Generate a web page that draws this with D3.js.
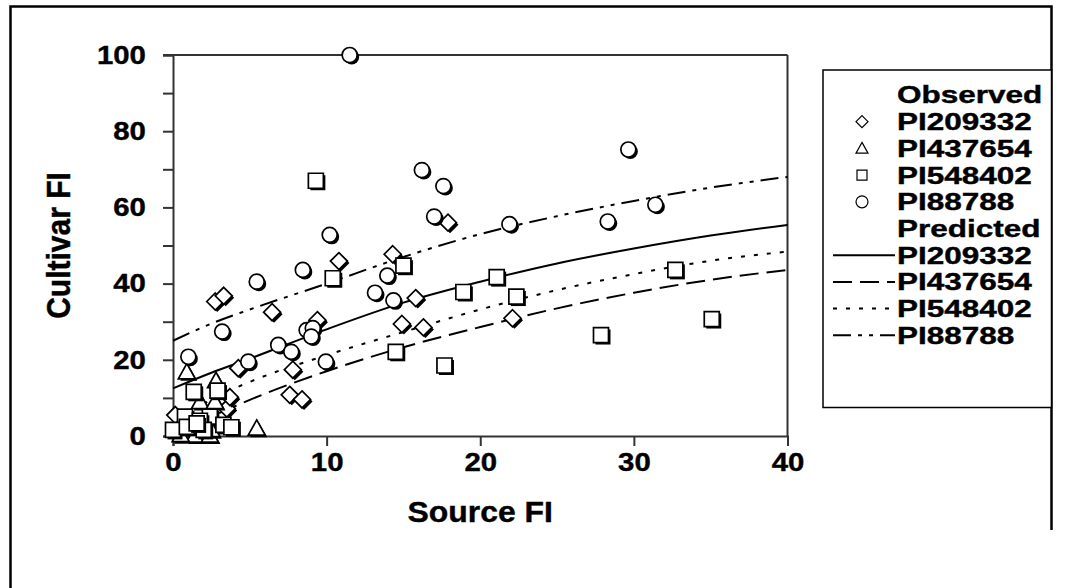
<!DOCTYPE html>
<html>
<head>
<meta charset="utf-8">
<script src="https://cdn.jsdelivr.net/npm/d3@7"></script>
<style>
  html, body { margin: 0; padding: 0; background: #fff; }
  svg { display: block; }
  text { font-family: "Liberation Sans", Arial, sans-serif; font-weight: bold; fill: #000; stroke: #000; stroke-width: 0.4px; }
</style>
</head>
<body>
<svg id="chart" width="1065" height="588"></svg>
<script>
// ---------- data ----------
const xTickValues = [0, 10, 20, 30, 40];
const yTickValues = [0, 10, 20, 30, 40, 50, 60, 70, 80, 90, 100];
const yLabelValues = [0, 20, 40, 60, 80, 100];

// Observed (Source FI, Cultivar FI)
const obsPI209332 = [
  [2.75, 35.3], [3.3, 36.8], [6.45, 32.5], [10.8, 45.9], [14.3, 47.7], [17.9, 56.0],
  [9.4, 30.4], [15.8, 36.2], [14.9, 29.4], [16.3, 28.5], [22.1, 30.9], [4.25, 17.8],
  [7.8, 17.4], [7.6, 10.8], [8.4, 9.6], [0.15, 5.5], [3.5, 7.2], [3.7, 10.2]
];
const obsPI437654 = [
  [0.9, 16.8], [2.8, 14.5], [1.76, 9.0], [2.73, 9.0], [5.45, 2.0], [1.43, 0.2],
  [2.4, 0.2], [0.5, 0.3], [2.5, 1.6]
];
const obsPI548402 = [
  [9.3, 67.0], [10.4, 41.4], [15.0, 44.7], [18.9, 37.8], [21.07, 41.7], [22.35, 36.6],
  [32.7, 43.6], [35.07, 30.7], [27.86, 26.5], [17.67, 18.5], [14.5, 22.1],
  [1.35, 11.6], [2.9, 11.9], [0.78, 5.1], [2.4, 5.1], [1.75, 4.0], [0.0, 1.6],
  [0.9, 2.4], [2.0, 1.6], [1.54, 3.3], [3.28, 2.9], [3.8, 2.3]
];
const obsPI88788 = [
  [11.5, 100], [16.2, 69.8], [17.6, 65.6], [17.0, 57.6], [10.2, 52.8], [8.45, 43.6],
  [5.45, 40.5], [13.95, 42.1], [13.15, 37.6], [14.35, 35.6], [3.2, 27.4], [8.7, 27.8],
  [9.1, 28.3], [9.0, 26.1], [6.85, 23.9], [7.7, 22.1], [4.9, 19.5], [9.95, 19.5],
  [1.0, 20.8], [29.64, 75.2], [31.4, 60.7], [28.3, 56.3], [21.9, 55.6]
];

// Predicted curves
const predX209332 = [0, 2.5, 5, 10, 15, 20, 25, 30, 35, 40];
const predY209332 = [12.5, 16.6, 20.3, 28.0, 35.0, 40.5, 45.3, 49.2, 52.6, 55.4];
const predX437654 = [3, 5, 10, 15, 20, 25, 30, 35, 40];
const predY437654 = [6.0, 9.5, 17.0, 23.3, 28.6, 33.5, 37.6, 41.0, 43.6];
const predX548402 = [2, 2.5, 5, 10, 15, 20, 25, 30, 35, 40];
const predY548402 = [8.4, 9.6, 14.2, 21.2, 27.3, 33.2, 38.3, 42.5, 46.0, 48.4];
const predX88788 = [0, 2.5, 5, 10, 15, 20, 25, 30, 35, 40];
const predY88788 = [25.0, 29.5, 33.2, 40.0, 47.0, 53.0, 57.7, 61.7, 65.2, 68.0];

const observedNames = ["PI209332", "PI437654", "PI548402", "PI88788"];
const predictedNames = ["PI209332", "PI437654", "PI548402", "PI88788"];

// ---------- layout ----------
const svg = d3.select("#chart");
const x = d3.scaleLinear().domain([0, 40]).range([173, 787.5]);
const y = d3.scaleLinear().domain([0, 100]).range([436, 55]);
const axisColor = "#333";
const SX = 1.13; // horizontal widening of the bold type seen in the reference

// outer frame
svg.append("path")
  .attr("d", "M10.5,588 L10.5,6.5 L1051.5,6.5 L1051.5,530")
  .attr("fill", "none").attr("stroke", "#000").attr("stroke-width", 2.5);

// marker shapes
const shapes = {
  diamond: s => `M0,${-s}L${s},0L0,${s}L${-s},0Z`,
  triangle: s => `M0,${-s}L${s},${s * 0.8}L${-s},${s * 0.8}Z`,
  square: s => `M${-s},${-s}H${s}V${s}H${-s}Z`,
  circle: s => `M${s},0A${s},${s} 0 1,1 ${-s},0A${s},${s} 0 1,1 ${s},0Z`
};
const seriesShape = ["diamond", "triangle", "square", "circle"];
const seriesSize = [8.5, 8.5, 7.5, 7.5];
const seriesData = [obsPI209332, obsPI437654, obsPI548402, obsPI88788];

const dashes = [null, "19,8", "4,9", "18,7,4,7,4,7"];
const curves = [
  d3.zip(predX209332, predY209332),
  d3.zip(predX437654, predY437654),
  d3.zip(predX548402, predY548402),
  d3.zip(predX88788, predY88788)
];

// axes
const yAxis = d3.axisLeft(y).tickValues(yTickValues).tickSize(10).tickPadding(14)
  .tickFormat(d => yLabelValues.includes(d) ? d3.format("d")(d) : "");
const gy = svg.append("g").attr("transform", `translate(${x(0)},0)`).call(yAxis);
gy.select(".domain").attr("stroke", axisColor).attr("stroke-width", 2);
gy.selectAll(".tick line").attr("stroke", axisColor).attr("stroke-width", 2);
gy.selectAll(".tick text").style("font-size", "26px").style("font-family", "Liberation Sans, Arial, sans-serif")
  .style("font-weight", "bold").attr("fill", "#000").attr("transform", `scale(${SX},1)`);

const xAxis = d3.axisBottom(x).tickValues(xTickValues).tickSize(10).tickPadding(7).tickFormat(d3.format("d"));
const gx = svg.append("g").attr("transform", `translate(0,${y(0)})`).call(xAxis);
gx.select(".domain").attr("stroke", axisColor).attr("stroke-width", 2);
gx.selectAll(".tick line").attr("stroke", axisColor).attr("stroke-width", 2);
gx.selectAll(".tick text").style("font-size", "26px").style("font-family", "Liberation Sans, Arial, sans-serif")
  .style("font-weight", "bold").attr("fill", "#000").attr("transform", `scale(${SX},1)`);

// top and right frame of plot
svg.append("line").attr("x1", x(0) - 10).attr("x2", x(40)).attr("y1", y(100)).attr("y2", y(100))
  .attr("stroke", axisColor).attr("stroke-width", 2);
svg.append("line").attr("x1", x(40)).attr("x2", x(40)).attr("y1", y(100)).attr("y2", y(0))
  .attr("stroke", axisColor).attr("stroke-width", 2);

// axis titles
svg.append("g").attr("transform", `translate(${x(20)},522) scale(1.1,1)`)
  .append("text").attr("text-anchor", "middle").style("font-size", "29px").text("Source FI");
svg.append("g").attr("transform", `translate(70,${y(50)}) scale(1.12,1) rotate(-90)`)
  .append("text").attr("text-anchor", "middle").style("font-size", "30px").text("Cultivar FI");

// predicted curves
const line = d3.line().x(d => x(d[0])).y(d => y(d[1])).curve(d3.curveMonotoneX);
curves.forEach((c, i) => {
  svg.append("path").datum(c).attr("d", line).attr("fill", "none")
    .attr("stroke", "#000").attr("stroke-width", 2)
    .attr("stroke-dasharray", dashes[i]);
});

// observed points with drop shadow
seriesData.forEach((data, i) => {
  const g = svg.append("g");
  const p = shapes[seriesShape[i]](seriesSize[i]);
  const pts = g.selectAll("g").data(data).join("g")
    .attr("transform", d => `translate(${x(d[0])},${y(d[1])})`);
  pts.append("path").attr("d", p).attr("transform", "translate(2,2)").attr("fill", "#000");
  pts.append("path").attr("d", p).attr("fill", "#fff").attr("stroke", "#000").attr("stroke-width", 1.7);
});

// legend
const lg = svg.append("g");
lg.append("rect").attr("x", 823).attr("y", 70).attr("width", 228.5).attr("height", 337.5)
  .attr("fill", "#fff").attr("stroke", "#000").attr("stroke-width", 1.5);
const rowY = i => 95 + i * 26.7;
const textX = 897;
const legendText = (r, str) => lg.append("g")
  .attr("transform", `translate(${textX},${rowY(r)}) scale(1.34,1)`)
  .append("text").attr("dy", "0.36em").style("font-size", "23.5px").text(str);
legendText(0, "Observed");
observedNames.forEach((n, i) => {
  const r = i + 1;
  lg.append("path").attr("d", shapes[seriesShape[i]](seriesShape[i] === "square" ? 5 : 6))
    .attr("transform", `translate(862,${rowY(r)})`).attr("fill", "#fff").attr("stroke", "#000").attr("stroke-width", 1.2);
  legendText(r, n);
});
legendText(5, "Predicted");
predictedNames.forEach((n, i) => {
  const r = i + 6;
  lg.append("line").attr("x1", 833).attr("x2", 895).attr("y1", rowY(r)).attr("y2", rowY(r))
    .attr("stroke", "#000").attr("stroke-width", 2).attr("stroke-dasharray", dashes[i]);
  legendText(r, n);
});
</script>
</body>
</html>
